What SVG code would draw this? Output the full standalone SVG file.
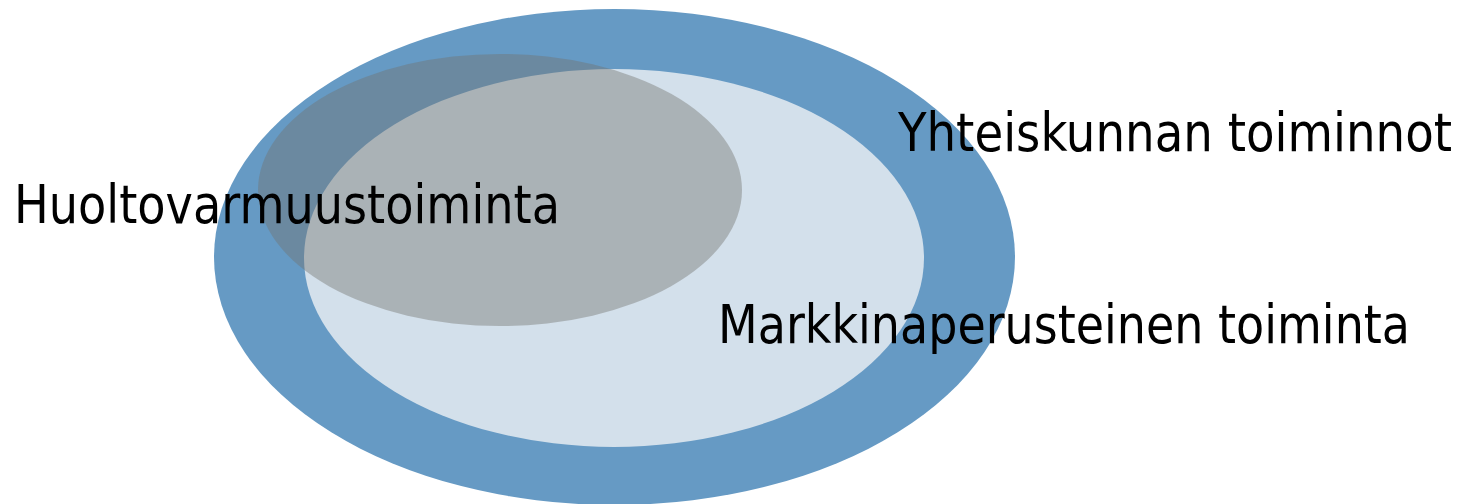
<svg xmlns="http://www.w3.org/2000/svg" width="1460" height="504" viewBox="0 0 1460 504">
<style>
.lbl{font-family:"DejaVu Sans Condensed","DejaVu Sans",sans-serif;font-stretch:condensed;font-size:52.5px;fill:#000}
</style>
<rect width="1460" height="504" fill="#fff"/>
<g id="yhteiskunta">
<ellipse cx="614.5" cy="257" rx="400.5" ry="248" fill="#669AC4"/>
</g>
<g id="markkina">
<ellipse cx="614" cy="258" rx="310" ry="189" fill="#D3E0EB"/>
</g>
<g id="huolto">
<ellipse cx="500" cy="190" rx="242" ry="136" fill="#73726E" fill-opacity="0.42"/>
</g>
<g id="labels">
<text class="lbl" x="898" y="151" textLength="554" lengthAdjust="spacingAndGlyphs">Yhteiskunnan toiminnot</text>
<text class="lbl" x="14" y="223" textLength="546" lengthAdjust="spacingAndGlyphs">Huoltovarmuustoiminta</text>
<text class="lbl" x="718" y="343" textLength="692" lengthAdjust="spacingAndGlyphs">Markkinaperusteinen toiminta</text>
</g>
<g id="connectors"></g>
</svg>
